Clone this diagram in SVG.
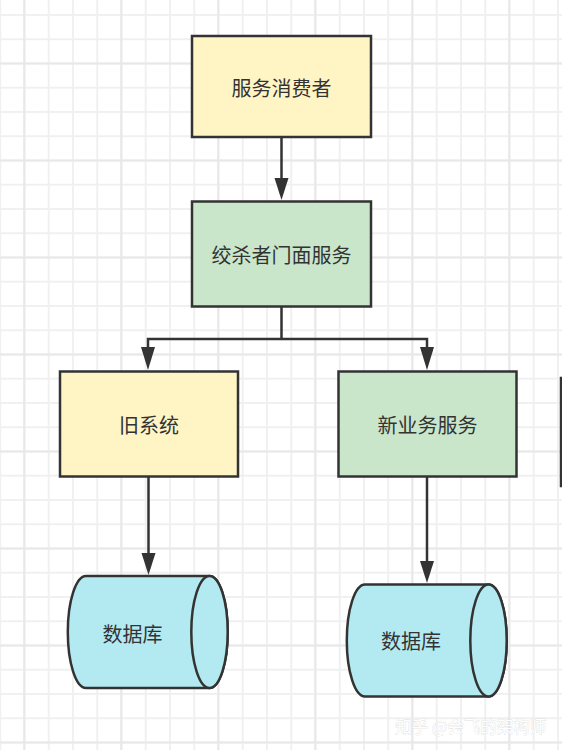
<svg xmlns="http://www.w3.org/2000/svg" width="562" height="750" viewBox="0 0 562 750">
  <defs>
    <pattern id="grid" x="-0.75" y="14" width="24.25" height="24.25" patternUnits="userSpaceOnUse">
      <path d="M0 1H24.25M1 0V24.25" fill="none" stroke="#f0f0f0" stroke-width="2"/>
    </pattern>
    <pattern id="major" x="23.25" y="62.5" width="97" height="97" patternUnits="userSpaceOnUse">
      <path d="M0 1H97M1 0V97" fill="none" stroke="#e8e8e8" stroke-width="2"/>
    </pattern>
    <style>
      .box { stroke: #333; stroke-width: 2.5; }
      .yellow { fill: #FFF5C4; }
      .green { fill: #C9E6CB; }
      .cyl { fill: #B3EAF2; stroke: #333; stroke-width: 2.5; }
      .label { font-family: "Noto Sans CJK SC", "Noto Sans", sans-serif; font-size: 20px; fill: #333; text-anchor: middle; dominant-baseline: central; }
      .conn { fill: none; stroke: #333; stroke-width: 2.5; }
      .head { fill: #333; }
      .wm { font-family: "Noto Sans CJK SC", sans-serif; font-size: 16.5px; fill: #ffffff; stroke: #d2d2d2; stroke-width: 0.5; paint-order: stroke; dominant-baseline: central; }
    </style>
  </defs>
  <rect width="562" height="750" fill="#ffffff"/>
  <rect width="562" height="750" fill="url(#grid)"/>
  <rect width="562" height="750" fill="url(#major)"/>

  <g id="connectors">
    <path class="conn" d="M281.5 137V179"/>
    <path class="head" d="M274.5 178L288.5 178L281.5 200Z"/>
    <path class="conn" d="M281.5 307V339H148V348M281.5 339H427V348"/>
    <path class="head" d="M141 347L155 347L148 370Z"/>
    <path class="head" d="M420 347L434 347L427 370Z"/>
    <path class="conn" d="M148.5 477V554"/>
    <path class="head" d="M141.5 553L155.5 553L148.5 575Z"/>
    <path class="conn" d="M427 477V562"/>
    <path class="head" d="M420 561L434 561L427 583Z"/>
  </g>

  <g id="consumer">
    <rect class="box yellow" x="192" y="36" width="179" height="101"/>
    <text class="label" x="281.5" y="87">服务消费者</text>
  </g>
  <g id="facade">
    <rect class="box green" x="192" y="201.5" width="179" height="105"/>
    <text class="label" x="281.5" y="254">绞杀者门面服务</text>
  </g>
  <g id="legacy">
    <rect class="box yellow" x="60" y="371.5" width="178" height="105"/>
    <text class="label" x="149" y="424">旧系统</text>
  </g>
  <g id="newservice">
    <rect class="box green" x="338.5" y="371.5" width="178" height="105"/>
    <text class="label" x="427.5" y="424">新业务服务</text>
  </g>
  <g id="db-left">
    <path class="cyl" d="M86 576H209.5A18.2 56 0 0 1 209.5 688H86A18.2 56 0 0 1 86 576Z"/>
    <ellipse class="cyl" cx="209.5" cy="632" rx="18.2" ry="56"/>
    <text class="label" x="132.5" y="633">数据库</text>
  </g>
  <g id="db-right">
    <path class="cyl" d="M365 584.5H488.5A18.2 56 0 0 1 488.5 696.5H365A18.2 56 0 0 1 365 584.5Z"/>
    <ellipse class="cyl" cx="488.5" cy="640.5" rx="18.2" ry="56"/>
    <text class="label" x="411" y="640">数据库</text>
  </g>
  <g id="partial-node">
    <rect class="box" x="561" y="378" width="60" height="108" fill="none"/>
  </g>
  <text class="wm" x="395" y="725.5">知乎 @会飞的架构师</text>
</svg>
